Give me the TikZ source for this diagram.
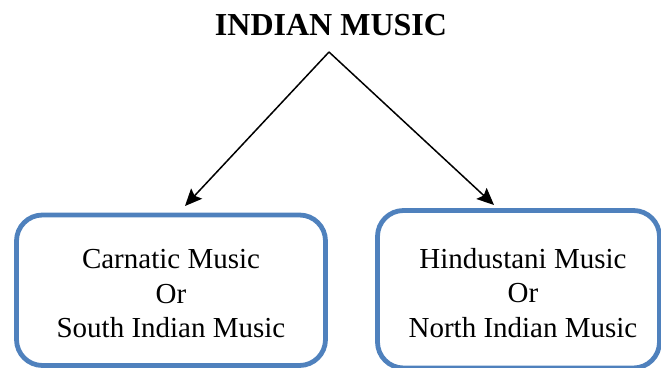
\documentclass[tikz,border=0pt]{standalone}
\usepackage{fontspec}
\setmainfont{Liberation Serif}
\usetikzlibrary{arrows.meta}
\definecolor{boxblue}{HTML}{4F81BD}
\begin{document}
\begin{tikzpicture}[x=1pt,y=-1pt,
  musicbox/.style={draw=boxblue, line width=4.8pt, rounded corners=26pt,
    inner sep=0pt},
  boxtext/.style={align=center, inner sep=0pt,
    font=\fontsize{29pt}{34.5pt}\selectfont},
  branch/.style={-{Stealth[length=17pt,width=15pt,inset=3pt]}, line width=1.5pt}
]
\useasboundingbox (0,0) rectangle (661,367);

% heading
\node[anchor=base, inner sep=0pt, font=\fontsize{32pt}{38pt}\selectfont\bfseries]
  (title) at (331,35) {INDIAN MUSIC};

% the two traditions
\node[musicbox, minimum width=309pt, minimum height=150.5pt] (south) at (171,290.25) {};
\node[musicbox, minimum width=282pt, minimum height=157.5pt] (north) at (518.5,289.25) {};

\node[boxtext] (southtext) at (171,294) {Carnatic Music\\Or\\South Indian Music};
\node[boxtext] (northtext) at (523,293) {Hindustani Music\\Or\\North Indian Music};

% branching arrows
\coordinate (apex) at (329,52);
\coordinate (southtip) at (185,206);
\coordinate (northtip) at (494,205);
\draw[branch] (apex) -- (southtip);
\draw[branch] (apex) -- (northtip);
\end{tikzpicture}
\end{document}
